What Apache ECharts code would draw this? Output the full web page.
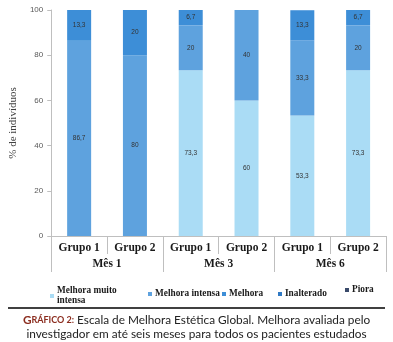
<!DOCTYPE html>
<html><head><meta charset="utf-8">
<script src="https://cdn.jsdelivr.net/npm/echarts@6/dist/echarts.min.js"></script>
<style>html,body{margin:0;padding:0;background:#fff}#c{width:393px;height:342px}</style>
</head><body><div id="c"></div>
<script>
const groups = ['Grupo 1','Grupo 2','Grupo 1','Grupo 2','Grupo 1','Grupo 2'];
const months = ['Mês 1','Mês 3','Mês 6'];
const yTicks = [0,20,40,60,80,100];
const seriesNames = ['Melhora muito intensa','Melhora intensa','Melhora','Inalterado','Piora'];
const muitoIntensa = [0,0,73.3,60,53.3,73.3];
const intensa = [86.7,80,20,40,33.3,20];
const melhora = [13.3,20,6.7,0,13.3,6.7];
const inalterado = [0,0,0,0,0,0];
const piora = [0,0,0,0,0,0];
const values = [muitoIntensa,intensa,melhora,inalterado,piora];
const colors = ['#aadcf5','#5ea2de','#3d8ed7','#2f79c4','#3a4a6a'];

const chart = echarts.init(document.getElementById('c'));
const serif = '"Liberation Serif","DejaVu Serif",serif';
const legendX = [50,148,222,278,345];
const legends = seriesNames.map((n,i)=>({
  data:[n], left:legendX[i], top: i===0?286:(i===4?285:289), itemWidth:4, itemHeight:4, itemGap:0,
  icon:'rect', padding:0,
  formatter: nm => nm==='Melhora muito intensa' ? 'Melhora muito\nintensa' : nm,
  textStyle:{fontFamily:serif,fontWeight:'bold',fontSize:9.3,color:'#1a1a1a',lineHeight:10,padding:[0,0,0,-2]}
}));
chart.setOption({
  animation:false,
  color:colors,
  grid:{left:38,right:7,top:10,bottom:106},
  legend:legends,
  yAxis:{type:'value',min:0,max:100,interval:20,
    name:'% de indivíduos',nameLocation:'middle',nameGap:25,
    nameTextStyle:{fontFamily:serif,fontSize:11,color:'#404040'},
    axisLine:{show:true,lineStyle:{color:'#bfbfbf'}},
    axisTick:{show:true,length:4,lineStyle:{color:'#bfbfbf'}},
    splitLine:{show:false},
    axisLabel:{fontFamily:'"Liberation Sans",sans-serif',fontSize:8,color:'#595959',margin:8,
      formatter:v=>yTicks.includes(v)?String(v):''}
  },
  xAxis:[
    {type:'category',data:groups,position:'bottom',
      axisLine:{show:true,lineStyle:{color:'#bfbfbf'}},
      axisTick:{show:true,length:18,interval:0,lineStyle:{color:'#bfbfbf'}},
      axisLabel:{interval:0,margin:6,fontFamily:serif,fontWeight:'bold',fontSize:11.5,color:'#1a1a1a'}},
    {type:'category',data:months,position:'bottom',offset:0,
      axisLine:{show:false},
      axisTick:{show:true,length:36,interval:0,lineStyle:{color:'#bfbfbf'}},
      axisLabel:{interval:0,margin:22,fontFamily:serif,fontWeight:'bold',fontSize:11.5,color:'#1a1a1a'}}
  ],
  series:seriesNames.map((n,i)=>({
    name:n,type:'bar',stack:'s',xAxisIndex:0,barWidth:24,
    data:values[i],
    label:{show:true,position:'inside',fontSize:6.5,color:'#333',fontFamily:'"Liberation Sans",sans-serif',
      formatter:p=>p.value>0?String(p.value).replace('.',','):''}
  })),
  graphic:[
    {type:'line',shape:{x1:8,y1:308,x2:385,y2:308},style:{stroke:'#000',lineWidth:1.5}},
    {type:'text',left:'center',top:314,style:{
      text:'{r|G}{s|RÁFICO 2:}{t| Escala de Melhora Estética Global. Melhora avaliada pelo}',
      rich:{
        r:{fontFamily:'Lato',fontWeight:'bold',fontSize:11.8,fill:'#8b2c1e'},
        s:{fontFamily:'Lato',fontWeight:'bold',fontSize:9,fill:'#8b2c1e'},
        t:{fontFamily:'Lato',fontSize:11.8,fill:'#222'}
      }}},
    {type:'text',left:'center',top:328,style:{
      text:'investigador em até seis meses para todos os pacientes estudados',
      fontFamily:'Lato',fontSize:11.8,fill:'#222'}}
  ]
});
</script></body></html>
